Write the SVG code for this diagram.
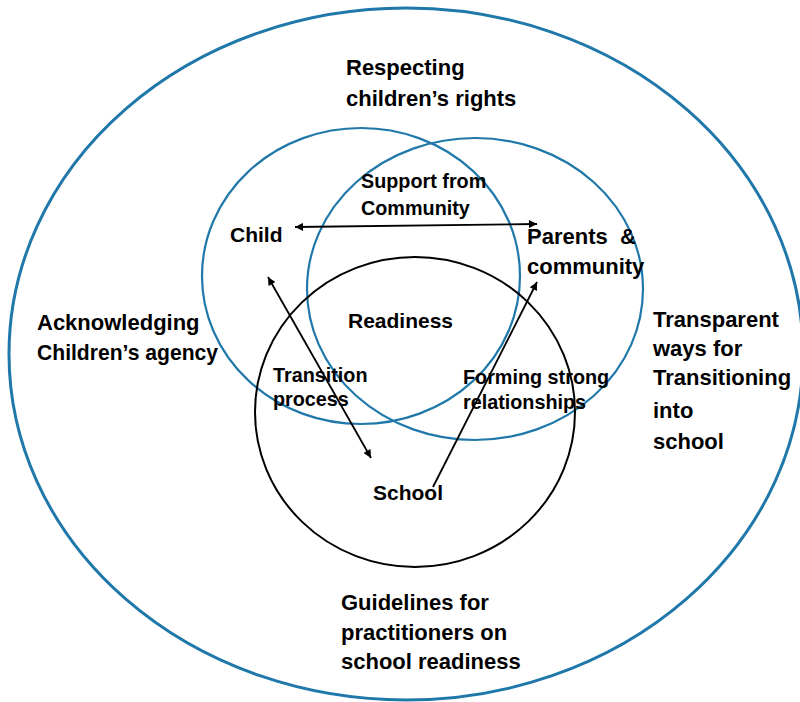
<svg xmlns="http://www.w3.org/2000/svg" width="800" height="702" viewBox="0 0 800 702">
  <style>
    .ring { fill: none; stroke: #1f78a9; stroke-width: 2.2; }
    .outer { fill: none; stroke: #1f78a9; stroke-width: 3; }
    .school-ring { fill: none; stroke: #000; stroke-width: 2; }
    .link { fill: none; stroke: #000; stroke-width: 1.8; }
    text { font-family: "Liberation Sans", Arial, sans-serif; font-weight: bold; fill: #000; }
    .lg { font-size: 22px; }
    .md { font-size: 21px; }
    .sm { font-size: 19.8px; }
  </style>
  <defs>
    <marker id="head" viewBox="0 0 10 10" refX="10" refY="5" markerWidth="11" markerHeight="8" markerUnits="userSpaceOnUse" orient="auto-start-reverse">
      <path d="M0,0 L10,5 L0,10 Z" fill="#000"/>
    </marker>
  </defs>

  <!-- outer context ring -->
  <g id="context">
    <ellipse class="outer" cx="406" cy="354" rx="397" ry="346"/>
    <text class="lg" x="346" y="75">Respecting</text>
    <text class="lg" x="346" y="106">children’s rights</text>
    <text class="lg" x="37" y="330">Acknowledging</text>
    <text class="lg" x="37" y="360" textLength="181" lengthAdjust="spacingAndGlyphs">Children’s agency</text>
    <text class="lg" x="653" y="327">Transparent</text>
    <text class="lg" x="653" y="356">ways for</text>
    <text class="lg" x="653" y="385">Transitioning</text>
    <text class="lg" x="653" y="418">into</text>
    <text class="lg" x="653" y="449">school</text>
    <text class="lg" x="341" y="610">Guidelines for</text>
    <text class="lg" x="341" y="640">practitioners on</text>
    <text class="lg" x="341" y="669">school readiness</text>
  </g>

  <g id="child">
    <ellipse class="ring" cx="361" cy="276" rx="159" ry="148"/>
    <text class="md" x="230" y="242">Child</text>
  </g>

  <g id="parents">
    <ellipse class="ring" cx="475" cy="289" rx="168" ry="151"/>
    <text class="lg" x="527" y="244">Parents</text>
    <text class="lg" x="620" y="244">&amp;</text>
    <text class="lg" x="527" y="274">community</text>
  </g>

  <g id="school">
    <ellipse class="school-ring" cx="415" cy="412" rx="160" ry="155"/>
    <text class="md" x="373" y="500">School</text>
  </g>

  <g id="readiness">
    <text class="md" x="348" y="328">Readiness</text>
  </g>

  <!-- connectors between the three parties -->
  <g id="connectors">
    <line class="link" x1="295" y1="227" x2="537" y2="224" marker-start="url(#head)" marker-end="url(#head)"/>
    <line class="link" x1="268" y1="277" x2="371" y2="458" marker-start="url(#head)" marker-end="url(#head)"/>
    <line class="link" x1="433" y1="487" x2="537" y2="282" marker-end="url(#head)"/>
  </g>

  <g id="labels">
    <text class="sm" x="361" y="188">Support from</text>
    <text class="sm" x="361" y="215">Community</text>
    <text class="sm" x="273" y="382">Transition</text>
    <text class="sm" x="273" y="406">process</text>
    <text class="sm" x="463" y="384">Forming strong</text>
    <text class="sm" x="463" y="409">relationships</text>
  </g>
</svg>
